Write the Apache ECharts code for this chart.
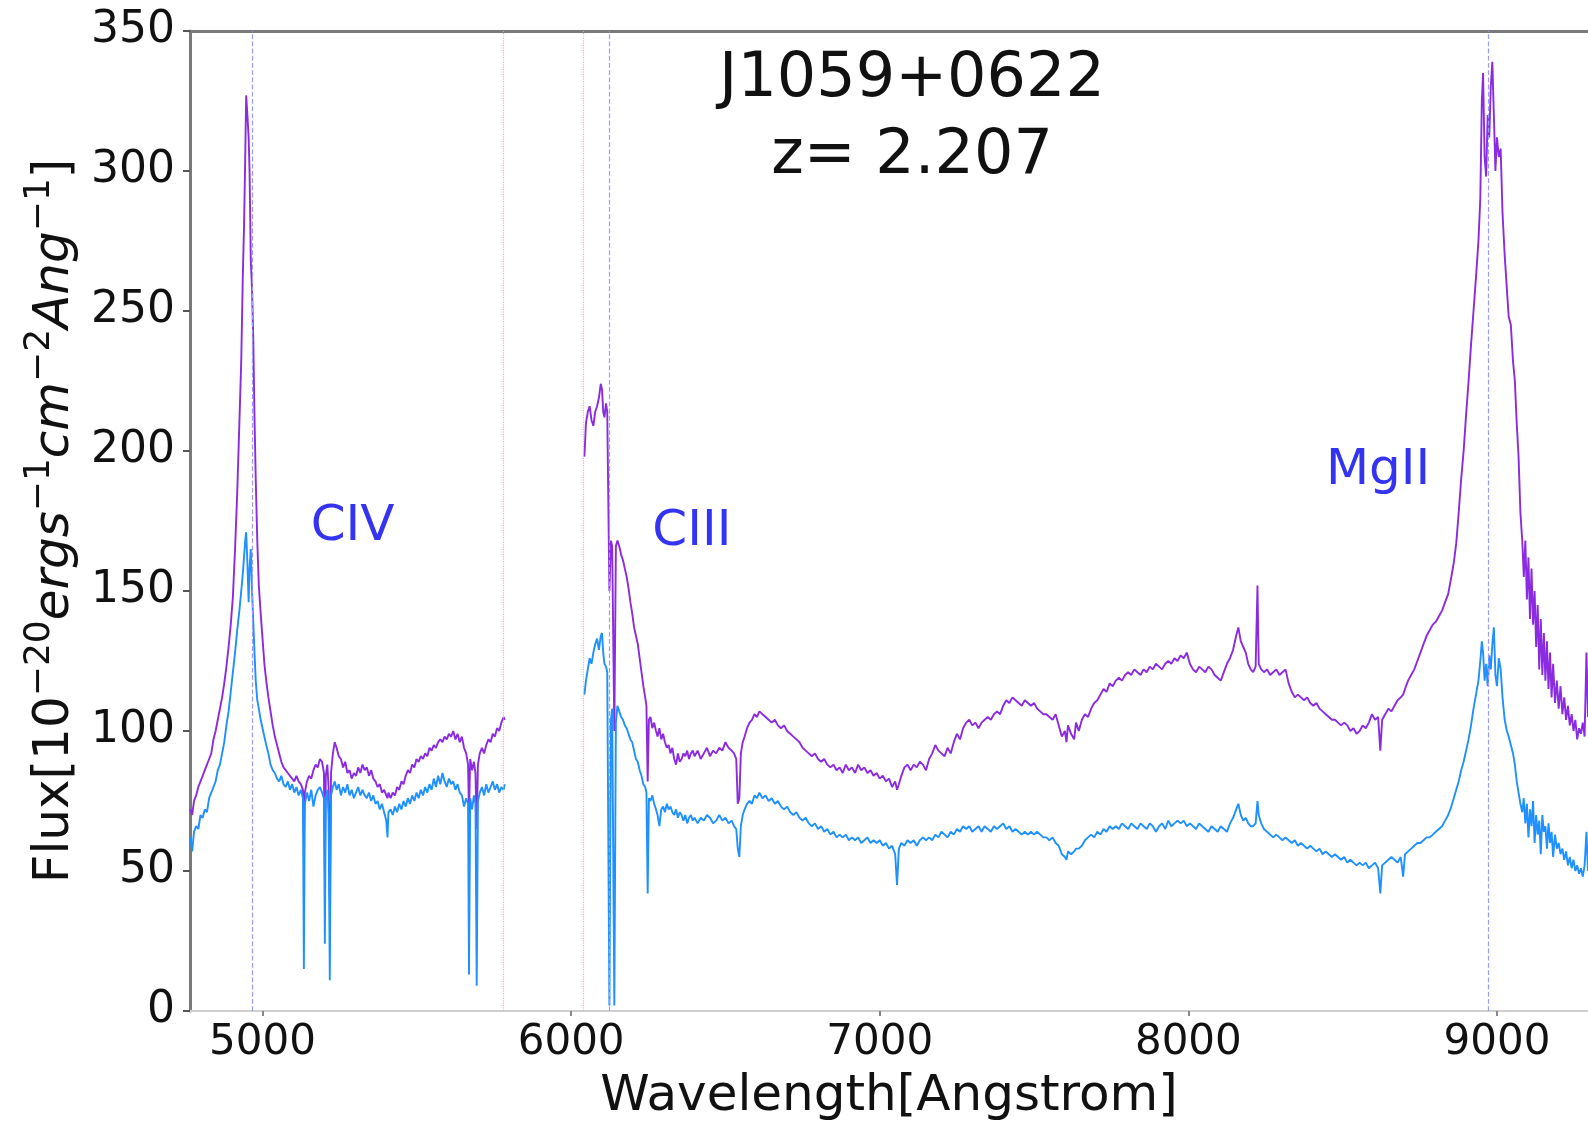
<!DOCTYPE html>
<html>
<head>
<meta charset="utf-8">
<script src="https://cdn.jsdelivr.net/npm/echarts@6/dist/echarts.min.js"></script>
<style>
html, body { margin: 0; padding: 0; background: #fff; }
#chart { width: 1588px; height: 1131px; }
</style>
</head>
<body>
<div id="chart"></div>
<script>
// first chunk of the spectrum (CIV side), stops at the red gap line
var waveBlue = [4766,4772,4778,4785,4792,4799,4806,4813,4820,4827,4834,4841,4848,4855,4862,4869,4876,4883,4890,4897,
  4904,4911,4918,4925,4931,4936,4940,4944,4947,4951,4955,4958,4962,4966,4970,4974,4978,4983,4988,4994,
  5000,5006,5012,5019,5026,5033,5040,5047,5054,5061,5068,5075,5082,5089,5096,5103,5110,5117,5124,5131,
  5134,5137,5144,5151,5158,5165,5172,5179,5186,5193,5199,5202,5205,5210,5214,5218,5222,5228,5234,5240,
  5247,5254,5261,5268,5275,5282,5289,5296,5303,5310,5317,5324,5331,5338,5345,5352,5359,5366,5373,5380,
  5387,5394,5401,5405,5408,5415,5422,5429,5436,5443,5450,5457,5464,5471,5478,5485,5492,5499,5506,5513,
  5520,5527,5534,5541,5548,5555,5562,5569,5576,5583,5590,5597,5604,5611,5618,5625,5632,5639,5646,5653,
  5660,5666,5669,5673,5679,5685,5690,5694,5698,5704,5711,5718,5725,5732,5739,5746,5753,5760,5767,5774,
  5781,5785];
var purpleA = [72,70,75,77,80,82,84,86,88,90,92,97,100,104,108,112,117,123,130,138,
  148,165,185,210,232,262,280,305,327,320,312,300,268,258,240,212,190,168,152,142,
  133,124,118,112,107,102,98,95,92,89,87,86,85,84,83,82,84,82,81,79,
  60,78,82,84,83,86,88,87,90,89,85,50,84,88,80,40,85,92,96,94,
  91,90,87,89,85,86,83,85,84,87,85,88,86,87,84,86,83,82,80,81,
  78,79,77,76,78,76,78,77,80,79,82,81,84,86,85,88,87,90,89,91,
  90,92,91,94,93,95,94,96,97,96,98,97,99,98,100,97,99,96,98,94,
  92,88,70,90,86,89,85,65,88,92,94,92,95,97,96,99,98,101,100,103,
  105,104];
var blueA = [62,57,64,66,65,70,69,72,71,76,78,80,82,86,88,92,96,102,107,114,
  121,128,136,143,150,156,162,168,171,160,146,158,165,150,139,128,118,111,108,104,
  101,98,95,92,88,86,85,83,82,84,81,80,82,79,81,78,80,77,79,76,
  15,74,78,75,79,73,77,79,80,78,76,24,76,79,70,11,77,80,82,79,
  81,77,80,78,81,77,79,76,78,80,77,79,77,76,78,75,77,74,75,72,
  74,71,68,62,71,72,70,73,71,74,72,75,73,76,74,77,75,78,76,79,
  77,80,78,81,79,83,80,84,81,85,82,80,83,81,82,79,81,78,77,73,
  76,74,13,76,72,77,74,9,75,78,80,77,81,78,80,82,79,81,78,80,
  79,81];

// second chunk (CIII to MgII), starts after the red gap line
var waveRed = [6043,6048,6054,6060,6066,6072,6078,6084,6090,6096,6100,6104,6108,6113,6117,6124,6129,6133,6140,6145,
  6150,6156,6162,6168,6174,6180,6186,6192,6198,6204,6210,6216,6222,6228,6234,6240,6244,6248,6252,6257,
  6263,6269,6275,6280,6286,6292,6298,6304,6310,6316,6322,6328,6334,6340,6346,6352,6358,6364,6370,6376,
  6382,6388,6394,6400,6410,6420,6430,6440,6450,6460,6470,6480,6490,6500,6510,6520,6528,6535,6540,6545,
  6550,6556,6562,6570,6578,6586,6594,6602,6610,6620,6630,6640,6650,6660,6670,6680,6690,6700,6710,6720,
  6730,6740,6750,6760,6770,6780,6790,6800,6810,6820,6830,6840,6850,6860,6870,6880,6890,6900,6910,6920,
  6930,6940,6950,6960,6970,6980,6990,7000,7010,7020,7030,7040,7050,7056,7062,7070,7080,7090,7100,7110,
  7120,7130,7140,7150,7160,7170,7180,7190,7200,7210,7220,7230,7240,7250,7260,7270,7280,7290,7300,7310,
  7320,7330,7340,7350,7360,7370,7380,7390,7400,7410,7420,7430,7440,7450,7460,7470,7480,7490,7500,7510,
  7520,7530,7540,7550,7560,7570,7580,7590,7600,7605,7610,7620,7630,7636,7645,7655,7665,7675,7685,7695,
  7705,7715,7725,7735,7745,7755,7765,7775,7785,7795,7805,7815,7825,7835,7845,7855,7865,7875,7885,7895,
  7905,7915,7925,7935,7945,7955,7965,7975,7985,7995,8005,8015,8025,8035,8045,8055,8065,8075,8085,8095,
  8105,8115,8125,8135,8145,8155,8162,8170,8178,8186,8194,8202,8210,8218,8224,8228,8236,8245,8255,8265,
  8275,8285,8295,8305,8315,8325,8335,8345,8355,8365,8375,8385,8395,8405,8415,8425,8435,8445,8455,8465,
  8475,8485,8495,8505,8515,8525,8535,8545,8555,8565,8575,8585,8595,8605,8615,8622,8628,8638,8648,8658,
  8668,8678,8688,8696,8702,8712,8722,8732,8742,8752,8762,8772,8782,8792,8802,8812,8822,8832,8842,8852,
  8860,8868,8876,8884,8892,8900,8908,8916,8924,8932,8940,8946,8951,8955,8960,8965,8970,8975,8980,8985,
  8990,8995,9000,9006,9012,9018,9025,9032,9038,9045,9052,9058,9064,9070,9076,9082,9087,9092,9097,9102,
  9107,9112,9117,9122,9127,9132,9137,9142,9147,9152,9157,9162,9167,9172,9177,9182,9188,9194,9200,9206,
  9212,9218,9224,9230,9236,9242,9248,9254,9260,9266,9272,9278,9284,9290,9295];
var purpleB = [198,210,214,216,211,209,214,216,219,224,222,214,212,217,214,150,168,166,100,166,
  168,166,163,161,158,155,151,146,142,137,134,131,126,121,116,112,109,82,104,105,
  101,103,100,98,101,97,99,96,94,95,92,94,90,88,92,89,90,92,91,93,
  90,92,93,91,93,90,92,94,91,93,92,94,93,96,94,93,92,90,74,76,
  92,96,98,101,103,104,106,105,107,106,105,104,103,104,102,101,102,100,99,98,
  97,96,94,93,92,91,92,90,89,90,88,87,88,86,87,85,88,86,87,85,
  88,86,87,85,86,84,85,83,84,82,83,80,82,79,81,84,87,88,86,88,
  87,89,88,86,90,92,95,93,92,91,94,92,96,99,97,101,103,104,102,103,
  101,103,104,105,104,106,107,106,109,111,110,112,111,110,109,111,110,109,110,108,
  107,106,106,105,104,106,102,98,100,96,102,99,97,103,100,104,106,105,108,110,
  111,113,115,114,117,116,118,119,118,120,121,120,122,121,120,122,121,123,122,124,
  123,122,124,125,124,126,125,127,126,128,124,122,121,123,122,121,123,122,120,119,
  118,121,124,126,129,134,137,132,130,128,124,122,121,123,152,124,122,121,122,120,
  121,122,120,121,122,117,114,112,113,112,111,112,110,109,110,108,107,106,105,104,
  104,103,102,103,102,100,101,99,100,102,101,103,106,104,105,93,104,106,108,107,
  109,111,112,113,115,118,120,122,125,128,131,134,136,138,139,141,143,146,149,155,
  160,167,178,190,200,213,225,238,250,262,275,290,325,335,305,298,320,312,330,339,
  320,300,312,305,308,285,270,258,248,245,232,225,210,198,178,168,155,168,147,162,
  140,158,138,150,130,145,122,140,120,135,118,132,115,128,112,124,110,118,108,116,
  106,112,104,109,102,106,100,104,97,101,99,103,98,128,105];
var blueB = [113,118,122,126,124,128,131,133,129,134,135,128,124,123,121,2,104,108,2,103,
  109,107,105,104,102,101,99,97,96,93,90,89,86,84,81,80,78,42,76,75,
  77,74,72,70,66,72,73,71,74,72,73,71,70,72,69,71,70,68,70,67,
  69,70,68,69,67,69,68,70,69,67,68,70,68,69,67,68,66,65,58,55,
  66,70,72,74,75,74,77,76,78,76,77,75,76,74,75,73,72,73,71,70,
  71,69,68,69,67,66,67,65,66,64,65,63,64,62,63,62,63,61,62,61,
  62,60,61,62,60,61,60,61,59,60,58,59,56,45,58,60,59,61,60,61,
  59,61,62,61,62,61,63,62,64,63,62,64,63,65,64,66,65,66,64,65,
  66,64,66,65,64,66,65,66,67,65,66,64,65,64,63,64,63,64,63,64,
  63,62,62,61,62,60,59,56,55,54,57,56,57,58,58,59,61,62,63,62,
  64,63,65,64,66,65,66,65,67,66,65,67,66,65,67,66,65,67,66,64,
  66,67,65,68,66,67,68,67,68,66,67,66,65,67,66,65,64,66,65,64,
  66,65,64,67,69,72,74,70,68,69,67,66,66,67,75,70,67,65,64,63,
  62,63,62,61,62,61,60,61,59,60,59,58,59,58,57,58,56,57,56,55,
  56,55,54,55,53,54,53,52,53,52,53,51,52,53,51,42,52,53,54,55,
  54,53,55,48,56,57,58,59,60,60,61,62,62,63,64,65,66,68,70,73,
  76,79,82,86,89,93,97,102,108,113,118,125,132,128,118,124,116,127,122,131,
  137,120,116,126,122,112,104,100,98,95,92,88,82,78,74,71,76,67,74,62,
  72,66,75,60,70,63,68,56,70,64,66,58,67,60,64,55,63,58,60,56,
  58,54,57,52,55,51,54,50,52,49,51,48,52,64,50];

// vertical guide lines: redshifted CIV, CIII, MgII and the two edges of the gap
var lineWaves = [4968, 6122, 8973];
var gapWaves = [5781, 6040];

// line labels
var lineNames = ['CIV', 'CIII', 'MgII'];
var labelWaves = [5292, 6391, 8615];
var labelFlux = [173, 171, 193];

var xTicks = [5000, 6000, 7000, 8000, 9000];
var titleText = 'J1059+0622\nz= 2.207';

var FONT = 'DejaVu Sans';
var chart = echarts.init(document.getElementById('chart'));

function pairs(w, f) {
    return w.map(function (x, i) { return [x, f[i]]; });
}

function specLine(data, color) {
    return {
        type: 'line',
        data: data,
        showSymbol: false,
        symbol: 'none',
        silent: true,
        lineStyle: { color: color, width: 1.9 },
        xAxisIndex: 0,
        yAxisIndex: 0
    };
}

var option = {
    animation: false,
    backgroundColor: '#ffffff',
    grid: { left: 190, right: 0, top: 31, bottom: 120, containLabel: false },
    xAxis: [{
        type: 'value',
        min: 4765,
        max: 9295,
        position: 'bottom',
        axisLine: { show: true, onZero: false, lineStyle: { color: '#cfcfcf', width: 2 } },
        axisTick: { show: true, customValues: xTicks, length: 5, lineStyle: { color: '#888', width: 2 } },
        axisLabel: {
            customValues: xTicks,
            fontSize: 42,
            color: '#111',
            margin: 11,
            fontFamily: FONT,
            formatter: function (v) { return String(v); }
        },
        splitLine: { show: false },
        name: 'Wavelength[Angstrom]',
        nameLocation: 'middle',
        nameGap: 61,
        nameTextStyle: { fontSize: 50, color: '#111', fontFamily: FONT }
    }, {
        type: 'value',
        min: 4765,
        max: 9295,
        position: 'top',
        axisLine: { show: true, onZero: false, lineStyle: { color: '#7a7a7a', width: 3 } },
        axisTick: { show: false },
        axisLabel: { show: false },
        splitLine: { show: false }
    }],
    yAxis: {
        type: 'value',
        min: 0,
        max: 350,
        interval: 50,
        axisLine: { show: true, onZero: false, lineStyle: { color: '#7a7a7a', width: 3 } },
        axisTick: { show: true, length: 7, lineStyle: { color: '#555', width: 2 } },
        axisLabel: { fontSize: 44, color: '#111', margin: 15, fontFamily: FONT },
        splitLine: { show: false },
        name: '{n|Flux[10}{s|\u221220}{i|ergs}{s|\u22121}{i|cm}{s|\u22122}{i|Ang}{s|\u22121}{n|]}',
        nameLocation: 'middle',
        nameGap: 100,
        nameTextStyle: {
            color: '#111',
            rich: {
                n: { fontSize: 50, fontFamily: FONT, color: '#111', lineHeight: 66 },
                i: { fontSize: 50, fontFamily: FONT, fontStyle: 'italic', color: '#111', lineHeight: 66 },
                s: { fontSize: 36, fontFamily: FONT, color: '#111', lineHeight: 24, verticalAlign: 'top' }
            }
        }
    },
    graphic: [{
        type: 'text',
        x: 912,
        y: 118,
        silent: true,
        style: {
            text: titleText,
            align: 'center',
            verticalAlign: 'middle',
            fontSize: 62,
            lineHeight: 77,
            fontFamily: FONT,
            fill: '#111'
        }
    }],
    series: [
        specLine(pairs(waveBlue, purpleA), '#8a2be2'),
        specLine(pairs(waveRed, purpleB), '#8a2be2'),
        specLine(pairs(waveBlue, blueA), '#1e90ff'),
        specLine(pairs(waveRed, blueB), '#1e90ff'),
        {
            type: 'line',
            data: [],
            silent: true,
            markLine: {
                silent: true,
                symbol: ['none', 'none'],
                label: { show: false },
                lineStyle: { color: '#9a9aff', type: 'dashed', width: 1.2 },
                data: lineWaves.map(function (w) { return { xAxis: w }; })
            }
        },
        {
            type: 'line',
            data: [],
            silent: true,
            markLine: {
                silent: true,
                symbol: ['none', 'none'],
                label: { show: false },
                lineStyle: { color: '#ffaaaa', type: 'dotted', width: 1.2 },
                data: gapWaves.map(function (w) { return { xAxis: w }; })
            }
        },
        {
            type: 'scatter',
            silent: true,
            symbolSize: 1,
            itemStyle: { color: 'rgba(0,0,0,0)' },
            label: {
                show: true,
                position: 'inside',
                formatter: '{b}',
                fontSize: 50,
                color: '#0000ee',
                fontFamily: FONT
            },
            data: lineNames.map(function (n, i) {
                return { name: n, value: [labelWaves[i], labelFlux[i]] };
            })
        }
    ]
};

chart.setOption(option);
</script>
</body>
</html>
